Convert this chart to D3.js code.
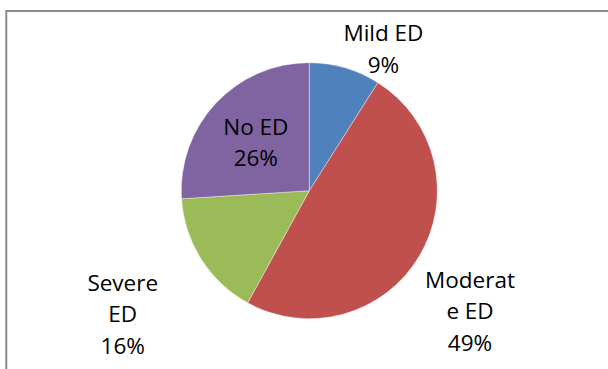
<!DOCTYPE html>
<html><head><meta charset="utf-8">
<script src="https://cdn.jsdelivr.net/npm/d3@7"></script>
<style>html,body{margin:0;padding:0;background:#fff;overflow:hidden}</style>
</head><body>
<svg id="chart" width="608" height="369"></svg>
<script>
const categories = ["Mild ED", "Moderate ED", "Severe ED", "No ED"];
const values = [9, 49, 16, 26];
const colors = ["#4F81BD", "#C0504D", "#9BBB59", "#8064A2"];
const labelLines = [["Mild ED", "9%"], ["Moderat", "e ED", "49%"], ["Severe", "ED", "16%"], ["No ED", "26%"]];

// layout (not data)
const labelLayout = [{dist: 159.5, dAng: 11.5}, {dist: 201, dAng: 6.3}, {dist: 224, dAng: -1.2}, {dist: 72, dAng: -1.2}];
const W = 608, H = 369, cx = 309.3, cy = 190.7, R = 128;
const lineH = 31.5, capH = 15.5;

const svg = d3.select("#chart");
svg.append("rect").attr("x", 6.3).attr("y", 11).attr("width", 640).attr("height", 400)
  .attr("fill", "#fff").attr("stroke", "#8c8c8c").attr("stroke-width", 2);

const pie = d3.pie().sort(null).value(d => d)(values);
const arc = d3.arc().innerRadius(0).outerRadius(R);
const g = svg.append("g").attr("transform", `translate(${cx},${cy})`);
g.selectAll("path").data(pie).join("path")
  .attr("d", arc).attr("fill", (d, i) => colors[i])
  .attr("stroke", "#ffffff").attr("stroke-opacity", 0.5).attr("stroke-width", 0.75);

const lab = g.selectAll("text.lab").data(pie).join("text").attr("class", "lab")
  .attr("text-anchor", "middle")
  .attr("font-family", "'Open Sans', 'Noto Sans', sans-serif")
  .attr("font-size", 22.5).attr("fill", "#000")
  .each(function(d, i) {
    const mid = (d.startAngle + d.endAngle) / 2 + labelLayout[i].dAng * Math.PI / 180;
    const x = Math.sin(mid) * labelLayout[i].dist;
    const y = -Math.cos(mid) * labelLayout[i].dist;
    const lines = labelLines[i];
    const firstBase = y - (lines.length - 1) * lineH / 2 + capH / 2;
    d3.select(this).selectAll("tspan").data(lines).join("tspan")
      .attr("x", x).attr("y", (t, k) => firstBase + k * lineH).text(t => t);
  });
</script>
</body></html>
